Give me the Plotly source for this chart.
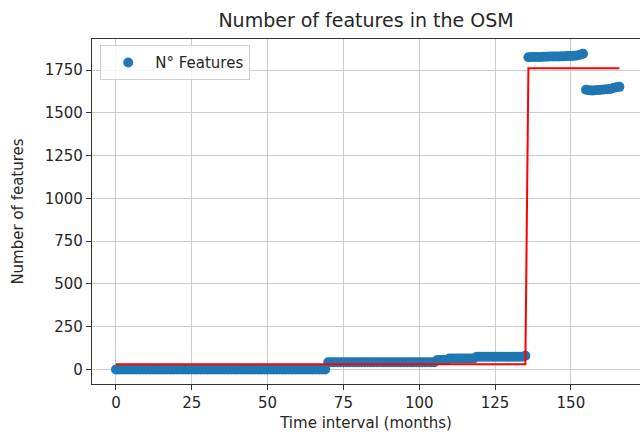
import plotly.graph_objects as go

# ---- data ----
months_low = list(range(0, 136))
features_low = [
    0, 0, 0, 0, 0, 0, 0, 0, 0, 0,
    0, 0, 0, 0, 0, 0, 0, 0, 0, 0,
    0, 0, 0, 0, 0, 0, 0, 0, 0, 0,
    0, 0, 0, 0, 0, 0, 0, 0, 0, 0,
    0, 0, 0, 0, 0, 0, 0, 0, 0, 0,
    0, 0, 0, 0, 0, 0, 0, 0, 0, 0,
    0, 0, 0, 0, 0, 0, 0, 0, 0, 0,
    42, 42, 42, 42, 42, 42, 42, 42, 42, 42,
    42, 42, 42, 42, 42, 42, 42, 42, 42, 42,
    42, 42, 42, 42, 42, 42, 42, 42, 42, 42,
    42, 42, 42, 42, 42, 42, 55, 55, 55, 55,
    65, 65, 65, 65, 65, 65, 65, 65, 65, 75,
    75, 75, 75, 75, 75, 75, 75, 75, 75, 75,
    75, 75, 75, 75, 75, 80,
]
months_high = list(range(136, 167))
features_high = [
    1825, 1826, 1826, 1827, 1827, 1828, 1828, 1829, 1829, 1830,
    1830, 1831, 1831, 1832, 1832, 1833, 1835, 1840, 1845,
    1635, 1632, 1630, 1632, 1633, 1635, 1636, 1638, 1640, 1645,
    1650, 1652,
]
fit_x = [0, 135, 136, 166]
fit_y = [30, 30, 1760, 1760]

x_ticks = [0, 25, 50, 75, 100, 125, 150]
y_ticks = [0, 250, 500, 750, 1000, 1250, 1500, 1750]

FONT = "DejaVu Sans"

fig = go.Figure()
fig.add_trace(go.Scatter(
    x=months_low + months_high,
    y=features_low + features_high,
    mode="markers",
    marker=dict(color="#1f77b4", size=10, line=dict(width=0)),
    name="N° Features",
))
fig.add_trace(go.Scatter(
    x=fit_x, y=fit_y, mode="lines",
    line=dict(color="#ff0000", width=2),
    showlegend=False,
))

fig.update_layout(
    width=640, height=432,
    margin=dict(l=92, r=0, t=39, b=48),
    paper_bgcolor="white", plot_bgcolor="white",
    font=dict(family=FONT, size=15, color="#262626"),
    title=dict(text="Number of features in the OSM", x=0.5, xref="paper",
               xanchor="center", y=1 - 20 / 432, yanchor="middle",
               font=dict(size=19, family=FONT, color="#262626")),
    showlegend=True,
    legend=dict(x=0.015, y=0.982, xanchor="left", yanchor="top",
                bgcolor="rgba(255,255,255,0.8)", bordercolor="#d0d0d0",
                borderwidth=1, itemwidth=44,
                font=dict(size=15, family=FONT)),
)
fig.update_xaxes(
    range=[-7.9, 172.8], tickvals=x_ticks,
    showgrid=True, gridcolor="#cccccc", gridwidth=1,
    showline=True, linecolor="#333333", linewidth=1.2, mirror=True,
    ticks="outside", ticklen=5, tickcolor="#333333",
    zeroline=False,
    title=dict(text="Time interval (months)", standoff=7,
               font=dict(size=15, family=FONT)),
)
fig.update_yaxes(
    range=[-84.7, 1931.6], tickvals=y_ticks,
    showgrid=True, gridcolor="#cccccc", gridwidth=1,
    showline=True, linecolor="#333333", linewidth=1.2, mirror=False,
    ticks="outside", ticklen=5, tickcolor="#333333",
    zeroline=False,
    title=dict(text="Number of features", standoff=17,
               font=dict(size=15, family=FONT)),
)

fig.write_html("out.html")
